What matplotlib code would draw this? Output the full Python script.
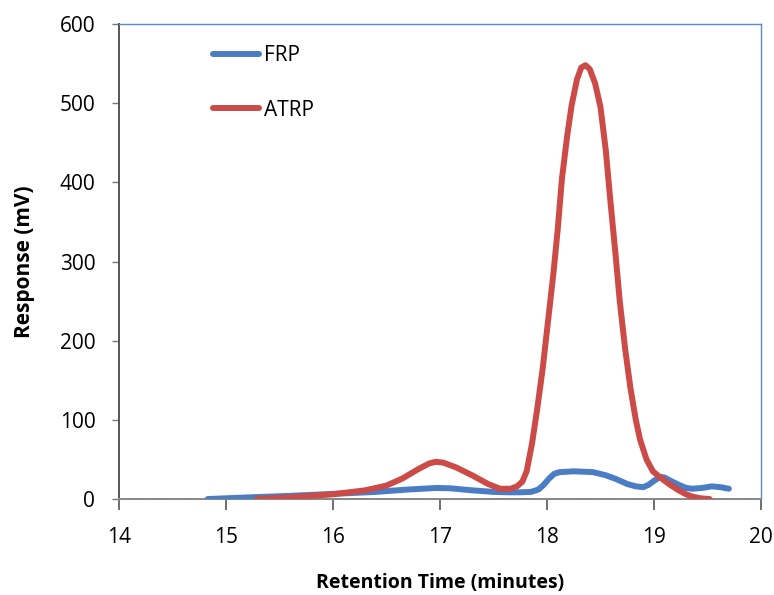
import matplotlib
matplotlib.use("Agg")
import matplotlib.pyplot as plt

# Retention time (minutes) and detector response (mV)
frp_time = [14.83, 15.2, 15.6, 16.0, 16.4, 16.7, 16.9, 16.97, 17.1, 17.3, 17.5, 17.65, 17.75,
            17.85, 17.92, 17.97, 18.02, 18.07, 18.12, 18.25, 18.43, 18.55, 18.65, 18.75, 18.83,
            18.9, 18.95, 19.0, 19.06, 19.1, 19.17, 19.23, 19.3, 19.36, 19.45, 19.54, 19.62, 19.7]
frp_resp = [0, 2, 4, 6.5, 9, 12, 13.5, 14, 13.5, 11, 9, 8.5, 8.5,
            9, 12, 18, 26, 32, 34, 35, 34, 30, 25, 19, 16,
            15, 18, 23, 28, 27, 22, 18, 14, 13, 14, 16, 15, 13]

atrp_time = [15.29, 15.6, 16.0, 16.3, 16.5, 16.65, 16.8, 16.9, 16.96, 17.03, 17.15, 17.3, 17.45,
             17.56, 17.66, 17.72, 17.77, 17.81, 17.86, 17.91, 17.96, 18.01, 18.06, 18.1, 18.14,
             18.19, 18.23, 18.28, 18.32, 18.36, 18.4, 18.45, 18.5, 18.55, 18.59, 18.64, 18.68,
             18.73, 18.78, 18.83, 18.87, 18.93, 18.99, 19.06, 19.15, 19.23, 19.3, 19.36, 19.43, 19.52]
atrp_resp = [0, 2, 6, 11, 17, 26, 38, 45, 47, 46, 40, 30, 19,
             13, 13, 16, 22, 35, 70, 115, 165, 225, 285, 340, 405,
             460, 497, 530, 545, 548, 543, 525, 495, 440, 380, 310, 250,
             190, 140, 100, 75, 50, 35, 27, 18, 11, 6, 3, 1, 0]

x_ticks = [14, 15, 16, 17, 18, 19, 20]
y_ticks = [0, 100, 200, 300, 400, 500, 600]

plt.rcParams['font.family'] = ['Open Sans', 'DejaVu Sans']

fig = plt.figure(figsize=(7.74, 5.95), dpi=100)
ax = fig.add_axes([0.1537, 0.1613, 0.8295, 0.7983])

blue = '#4a7dc4'
red = '#cc4b47'

ax.plot(frp_time, frp_resp, color=blue, lw=4.3, solid_capstyle='round',
        solid_joinstyle='round', label='FRP', zorder=3)
ax.plot(atrp_time, atrp_resp, color=red, lw=4.3, solid_capstyle='round',
        solid_joinstyle='round', label='ATRP', zorder=4)

ax.set_xlim(14, 20)
ax.set_ylim(0, 600)
ax.set_xticks(x_ticks)
ax.set_yticks(y_ticks)
ax.tick_params(axis='x', direction='out', length=8, width=1.2, color='#555555',
               labelsize=15, pad=12)
ax.tick_params(axis='y', direction='out', length=5, width=1.0, color='#777777',
               labelsize=15, pad=12)

ax.spines['left'].set_color('#555555')
ax.spines['left'].set_linewidth(1.4)
ax.spines['bottom'].set_color('#888888')
ax.spines['bottom'].set_linewidth(1.4)
ax.spines['bottom'].set_linestyle((0, (1, 0.6)))
ax.spines['top'].set_color('#5b8ad0')
ax.spines['top'].set_linewidth(1.0)
ax.spines['right'].set_color('#5b8ad0')
ax.spines['right'].set_linewidth(1.0)

ax.set_xlabel('Retention Time (minutes)', fontsize=14, fontweight='bold', labelpad=18)
ax.set_ylabel('Response (mV)', fontsize=15, fontweight='bold', labelpad=18)

leg = ax.legend(loc='upper left', bbox_to_anchor=(0.146, 0.956), frameon=False,
                fontsize=15, handlelength=2.2, handletextpad=0.25, labelspacing=1.62,
                borderpad=0, borderaxespad=0)

fig.savefig('out.png', dpi=100)
